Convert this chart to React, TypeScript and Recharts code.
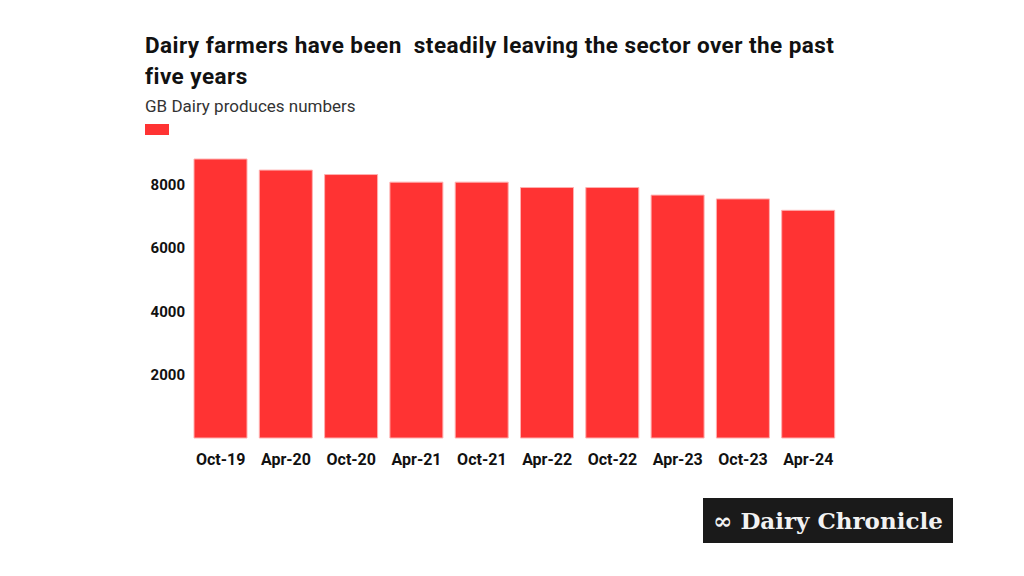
import React from "react";
import { BarChart, Bar, XAxis, YAxis } from "recharts";

const periods = ["Oct-19", "Apr-20", "Oct-20", "Apr-21", "Oct-21", "Apr-22", "Oct-22", "Apr-23", "Oct-23", "Apr-24"];
const producers = [8810, 8460, 8320, 8080, 8080, 7910, 7910, 7670, 7550, 7190];
const yTicks = [2000, 4000, 6000, 8000];

const data = periods.map((p, i) => ({ period: p, producers: producers[i] }));

const RED = "#ff3333";
const FONT = "Roboto, 'Noto Sans', sans-serif";

export default function App() {
  return (
    <div style={{ position: "absolute", left: 0, top: 0, width: 1024, height: 576, background: "#fff", fontFamily: FONT }}>
      <div style={{ position: "absolute", left: 145, top: 30, width: 720, fontSize: 22.5, fontWeight: 700, lineHeight: "31px", color: "#111", letterSpacing: 0.45 }}>
        Dairy farmers have been&nbsp; steadily leaving the sector over the past five years
      </div>
      <div style={{ position: "absolute", left: 145, top: 96, fontSize: 17, lineHeight: "20px", color: "#333" }}>GB Dairy produces numbers</div>
      <div style={{ position: "absolute", left: 145, top: 124, width: 24, height: 11, background: RED }} />
      <BarChart
        width={1024}
        height={576}
        data={data}
        margin={{ top: 153, right: 183, bottom: 108, left: 128 }}
        barCategoryGap={6}
        style={{ position: "absolute", left: 0, top: 0 }}
      >
        <XAxis
          dataKey="period"
          axisLine={false}
          tickLine={false}
          tickSize={0}
          tickMargin={16}
          interval={0}
          tick={{ fontSize: 16, fontWeight: 700, fill: "#111", fontFamily: FONT }}
        />
        <YAxis
          width={60}
          domain={[0, 9000]}
          ticks={yTicks}
          axisLine={false}
          tickLine={false}
          tickSize={0}
          tickMargin={3}
          tick={{ fontSize: 15, fontWeight: 700, fill: "#111", fontFamily: FONT }}
        />
        <Bar dataKey="producers" fill={RED} stroke="#ffb0b0" strokeWidth={1} isAnimationActive={false} />
      </BarChart>
      <div style={{ position: "absolute", left: 703, top: 498, width: 250, height: 45, background: "#1a1a1a", color: "#f2f2f2", display: "flex", alignItems: "center", justifyContent: "center", fontFamily: "'DejaVu Serif', serif", fontSize: 23, fontWeight: 700 }}>
        ∞ Dairy Chronicle
      </div>
    </div>
  );
}
